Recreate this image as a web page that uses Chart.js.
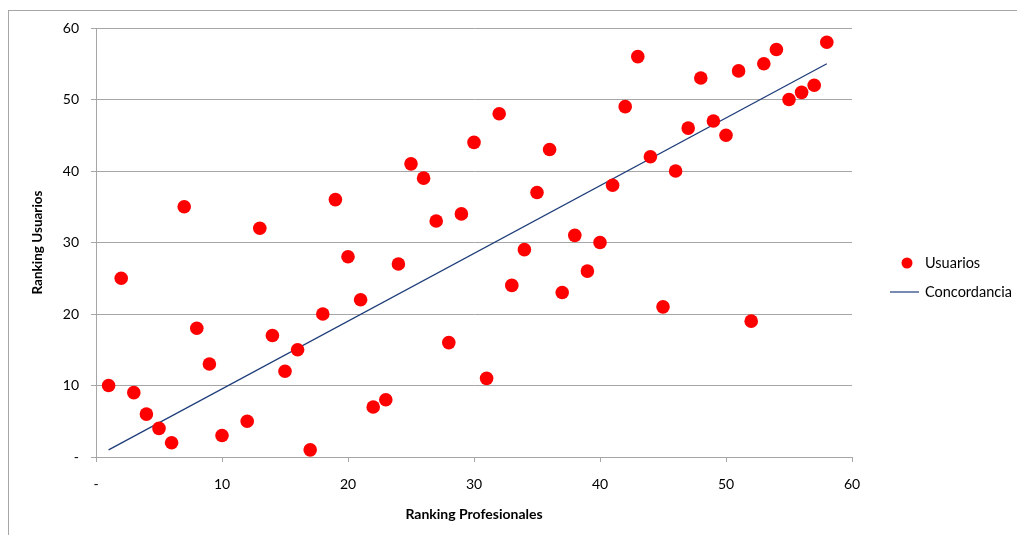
<!DOCTYPE html>
<html>
<head>
<meta charset="utf-8">
<script src="https://cdn.jsdelivr.net/npm/chart.js@4/dist/chart.umd.min.js"></script>
<style>
  html, body { margin: 0; padding: 0; background: #fff; }
  #frame { position: absolute; left: 8px; top: 10px; right: 0; bottom: 0;
           border-left: 1px solid #a6a6a6; border-top: 1px solid #a6a6a6; }
  #wrap { position: absolute; left: 0; top: 0; width: 1017px; height: 535px; }
</style>
</head>
<body>
<div id="frame"></div>
<div id="wrap"><canvas id="myChart"></canvas></div>
<script>
// ranking profesionales (x) vs ranking usuarios (y)
var rankProf = [1,2,3,4,5,6,7,8,9,10,12,13,14,15,16,17,18,19,20,21,22,23,24,25,26,27,28,29,30,
                31,32,33,34,35,36,37,38,39,40,41,42,43,44,45,46,47,48,49,50,51,52,53,54,55,56,57,58];
var rankUsu  = [10,25,9,6,4,2,35,18,13,3,5,32,17,12,15,1,20,36,28,22,7,8,27,41,39,33,16,34,44,
                11,48,24,29,37,43,23,31,26,30,38,49,56,42,21,40,46,53,47,45,54,19,55,57,50,51,52,58];
var concX = [1, 58];
var concY = [1, 55];
var axisTicks = [0,10,20,30,40,50,60];

var FONT = "Lato";
var gridColor = "#a6a6a6";

function toPoints(xs, ys) {
    var out = [];
    for (var i = 0; i < xs.length; i++) out.push({x: xs[i], y: ys[i]});
    return out;
}
function tickLabel(v) { return v === 0 ? "-" : v; }

// legend drawn at the right, like the excel one
var sideLegend = {
    id: 'sideLegend',
    afterDraw: function (chart) {
        var ctx = chart.ctx;
        var ds = chart.data.datasets;
        var x0 = 890, y0 = 263, step = 29;
        ctx.save();
        ctx.font = "14.5px " + FONT;
        ctx.fillStyle = "#000";
        ctx.textBaseline = "middle";
        for (var i = 0; i < ds.length; i++) {
            var y = y0 + i * step;
            if (ds[i].type === 'line') {
                ctx.strokeStyle = ds[i].borderColor;
                ctx.lineWidth = 1.2;
                ctx.beginPath();
                ctx.moveTo(x0, y); ctx.lineTo(x0 + 29, y);
                ctx.stroke();
            } else {
                ctx.fillStyle = ds[i].backgroundColor;
                ctx.beginPath();
                ctx.arc(x0 + 17, y, 5.5, 0, Math.PI * 2);
                ctx.fill();
                ctx.fillStyle = "#000";
            }
            ctx.fillText(ds[i].label, x0 + 35, y);
        }
        ctx.restore();
    }
};

var ctx = document.getElementById("myChart");
var myChart = new Chart(ctx, {
    type: 'scatter',
    data: {
        datasets: [{
            type: 'scatter',
            label: 'Usuarios',
            data: toPoints(rankProf, rankUsu),
            backgroundColor: '#ff0000',
            borderColor: '#ff0000',
            pointRadius: 6.8,
            pointHoverRadius: 6.8,
            borderWidth: 0
        }, {
            type: 'line',
            label: 'Concordancia',
            data: toPoints(concX, concY),
            borderColor: '#1f3d7a',
            borderWidth: 1.3,
            pointRadius: 0,
            fill: false,
            tension: 0
        }]
    },
    options: {
        responsive: true,
        maintainAspectRatio: false,
        animation: false,
        layout: { padding: { left: 20, right: 165, top: 28, bottom: 0 } },
        plugins: {
            legend: { display: false },
            tooltip: { enabled: false }
        },
        scales: {
            x: {
                type: 'linear',
                min: 0, max: 60,
                afterBuildTicks: function (s) { s.ticks = axisTicks.map(function (v) { return {value: v}; }); },
                afterFit: function (s) { s.height = 78; },
                grid: { drawOnChartArea: false, drawTicks: true, tickLength: 5, color: gridColor },
                border: { color: gridColor },
                ticks: { color: '#000', padding: 14, maxRotation: 0, font: { family: FONT, size: 14 }, callback: tickLabel },
                title: { display: true, text: 'Ranking Profesionales', color: '#000',
                         padding: { top: 0, bottom: 12 }, font: { family: FONT, size: 14, weight: 'bold' } }
            },
            y: {
                type: 'linear',
                min: 0, max: 60,
                afterBuildTicks: function (s) { s.ticks = axisTicks.map(function (v) { return {value: v}; }); },
                afterFit: function (s) { s.width = 76; },
                grid: { drawTicks: true, tickLength: 5, color: gridColor },
                border: { color: gridColor },
                ticks: { color: '#000', padding: 12, font: { family: FONT, size: 14 }, callback: tickLabel },
                title: { display: true, text: 'Ranking Usuarios', color: '#000',
                         padding: { top: 10, bottom: 0 }, font: { family: FONT, size: 13.5, weight: 'bold' } }
            }
        }
    },
    plugins: [sideLegend]
});
</script>
</body>
</html>
